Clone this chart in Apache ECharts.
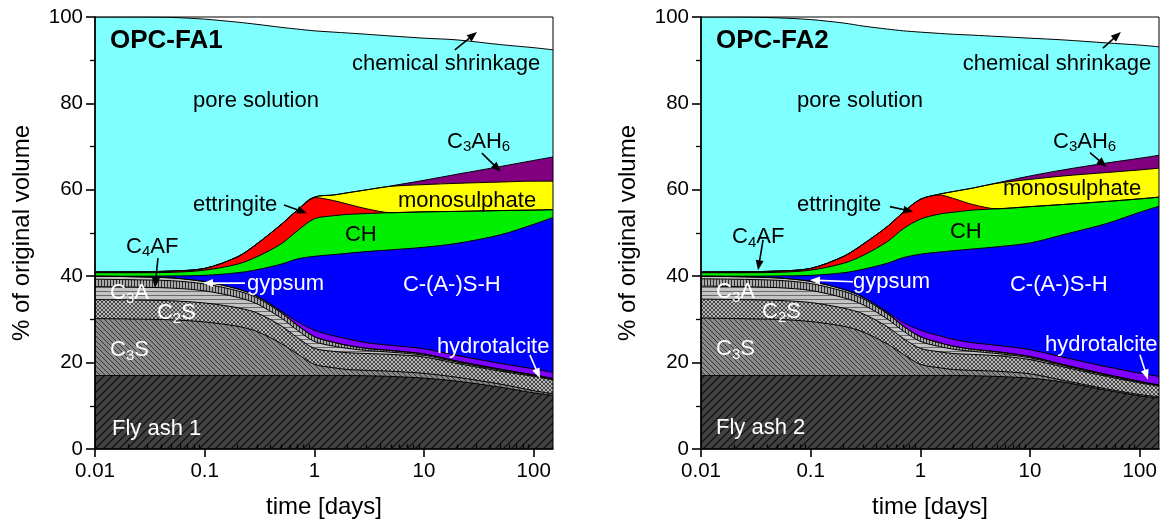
<!DOCTYPE html>
<html>
<head>
<meta charset="utf-8">
<script src="https://cdn.jsdelivr.net/npm/echarts@6/dist/echarts.min.js"></script>
<style>
html,body{margin:0;padding:0;background:#fff}
#chart{width:1165px;height:527px}
</style>
</head>
<body>
<div id="chart"></div>
<script>
// ---------------------------------------------------------------
// Phase assemblage of OPC–fly ash pastes versus hydration time.
// Each array holds the cumulative volume (% of original volume)
// up to and including the named phase, at the times in timeDays.
// ---------------------------------------------------------------
const timeDays = [0.01, 0.02, 0.05, 0.1, 0.2, 0.3, 0.5, 0.7, 1, 1.5, 2, 3, 5, 10, 20, 50, 100, 150];

// OPC-FA1
const fa1FlyAsh      = [17, 17, 17, 17, 17, 17, 17, 17, 17, 17, 17, 16.95, 16.8, 16.4, 15.7, 14.3, 13.0, 12.4];
const fa1C3S         = [30.2, 30.1, 29.9, 29.4, 28.4, 27.2, 24.4, 22.0, 19.6, 18.8, 18.4, 18.2, 18.0, 17.5, 16.6, 15.0, 13.5, 12.8];
const fa1C2S         = [34.6, 34.5, 34.3, 33.8, 32.7, 31.5, 28.5, 25.8, 23.3, 22.6, 22.3, 22.1, 21.9, 21.3, 19.8, 18.0, 16.8, 16.0];
const fa1C3A         = [37.6, 37.5, 37.25, 36.6, 35.1, 33.6, 30.3, 27.5, 24.9, 23.8, 23.3, 22.8, 22.4, 21.7, 20.1, 18.25, 17.0, 16.2];
const fa1C4AF        = [39.3, 39.2, 38.95, 38.2, 36.6, 35.0, 31.5, 28.6, 26.0, 24.7, 24.0, 23.3, 22.8, 22.0, 20.35, 18.45, 17.15, 16.3];
const fa1Gypsum      = [40.0, 39.9, 39.6, 38.75, 37.05, 35.35, 31.7, 28.7, 26.0, 24.7, 24.0, 23.3, 22.8, 22.0, 20.35, 18.45, 17.15, 16.3];
const fa1Hydrotalc   = [40.0, 39.9, 39.6, 38.75, 37.05, 35.35, 31.9, 29.5, 27.5, 26.2, 25.5, 24.6, 24.0, 23.2, 21.65, 19.8, 18.55, 17.7];
const fa1CSH         = [40.0, 40.0, 40.05, 40.2, 40.8, 41.5, 42.8, 44.0, 44.6, 45.0, 45.3, 45.7, 46.1, 46.7, 47.6, 49.6, 52.0, 53.6];
const fa1CH          = [40.8, 40.8, 40.9, 41.4, 42.8, 44.5, 47.5, 50.5, 53.3, 54.0, 54.3, 54.5, 54.7, 54.9, 55.0, 55.2, 55.3, 55.4];
const fa1Ettringite  = [41.0, 41.0, 41.2, 41.8, 44.5, 47.5, 52.0, 55.3, 58.2, 57.5, 56.7, 55.6, 54.7, 54.9, 55.0, 55.2, 55.3, 55.4];
const fa1Monosulph   = [41.0, 41.0, 41.2, 41.8, 44.5, 47.5, 52.0, 55.3, 58.3, 58.8, 59.3, 60.0, 60.8, 61.2, 61.5, 61.8, 62.0, 62.0];
const fa1C3AH6       = [41.0, 41.0, 41.2, 41.8, 44.5, 47.5, 52.0, 55.3, 58.3, 58.8, 59.3, 60.0, 60.9, 62.2, 63.6, 65.4, 66.8, 67.6];
const fa1PoreSol     = [100, 100, 99.9, 99.5, 98.8, 98.3, 97.6, 97.2, 96.8, 96.5, 96.3, 96.0, 95.6, 95.1, 94.7, 93.6, 92.9, 92.4];

// OPC-FA2
const fa2FlyAsh      = [17, 17, 17, 17, 17, 17, 17, 17, 17, 17, 17, 16.95, 16.8, 16.4, 15.5, 13.6, 12.3, 11.8];
const fa2C3S         = [30.3, 30.2, 30.0, 29.5, 28.4, 27.1, 24.3, 21.9, 19.6, 18.8, 18.4, 18.2, 18.0, 17.4, 15.9, 13.9, 12.6, 12.1];
const fa2C2S         = [34.7, 34.6, 34.4, 33.9, 32.6, 31.3, 28.3, 25.6, 23.3, 22.5, 22.1, 21.9, 21.6, 20.7, 19.0, 16.8, 15.3, 14.5];
const fa2C3A         = [37.7, 37.6, 37.35, 36.7, 35.0, 33.4, 30.1, 27.3, 24.9, 23.7, 23.1, 22.6, 22.1, 21.1, 19.3, 17.05, 15.5, 14.7];
const fa2C4AF        = [39.4, 39.3, 39.05, 38.3, 36.5, 34.8, 31.3, 28.4, 26.0, 24.6, 23.8, 23.1, 22.5, 21.4, 19.55, 17.25, 15.65, 14.8];
const fa2Gypsum      = [40.0, 39.9, 39.6, 38.8, 36.95, 35.15, 31.5, 28.5, 26.0, 24.6, 23.8, 23.1, 22.5, 21.4, 19.55, 17.25, 15.65, 14.8];
const fa2Hydrotalc   = [40.0, 39.9, 39.6, 38.8, 36.95, 35.15, 31.7, 29.3, 27.5, 26.2, 25.4, 24.6, 24.0, 23.0, 21.25, 19.05, 17.55, 16.8];
const fa2CSH         = [40.0, 40.0, 40.05, 40.2, 40.8, 41.6, 43.0, 44.3, 45.1, 45.6, 45.9, 46.3, 46.8, 47.7, 49.6, 52.2, 54.8, 56.2];
const fa2CH          = [40.8, 40.8, 40.9, 41.4, 43.0, 44.8, 48.0, 51.0, 53.2, 54.4, 54.8, 55.3, 55.6, 56.1, 56.6, 57.3, 57.9, 58.3];
const fa2Ettringite  = [41.0, 41.0, 41.2, 41.8, 44.6, 47.4, 51.5, 54.8, 57.8, 58.8, 58.0, 56.6, 55.6, 56.1, 56.6, 57.3, 57.9, 58.3];
const fa2Monosulph   = [41.0, 41.0, 41.2, 41.8, 44.6, 47.4, 51.5, 54.8, 57.8, 59.0, 59.6, 60.4, 61.5, 62.4, 63.2, 64.0, 64.6, 65.0];
const fa2C3AH6       = [41.0, 41.0, 41.2, 41.8, 44.6, 47.4, 51.5, 54.8, 57.8, 59.0, 59.6, 60.4, 61.6, 63.2, 64.6, 66.2, 67.3, 68.0];
const fa2PoreSol     = [100, 100, 99.8, 99.4, 98.6, 97.9, 97.2, 96.8, 96.5, 96.2, 96.0, 95.8, 95.5, 95.1, 94.7, 94.0, 93.5, 93.1];

// Axis ticks and titles
const xMajorTicks = [0.01, 0.1, 1, 10, 100];
const xMinorTicks = [0.02, 0.03, 0.04, 0.05, 0.06, 0.07, 0.08, 0.09,
                     0.2, 0.3, 0.4, 0.5, 0.6, 0.7, 0.8, 0.9,
                     2, 3, 4, 5, 6, 7, 8, 9,
                     20, 30, 40, 50, 60, 70, 80, 90];
const yMajorTicks = [0, 20, 40, 60, 80, 100];
const xTitle = 'time [days]';
const yTitle = '% of original volume';

const FONT = '"Liberation Sans", Arial, Helvetica, sans-serif';

// ---------- fill patterns ----------
function tile(w, h, draw) {
  const c = document.createElement('canvas');
  c.width = w; c.height = h;
  const g = c.getContext('2d');
  draw(g, w, h);
  return c;
}
function diagonal(g, w, h, dir) {
  g.beginPath();
  if (dir === '/') {
    g.moveTo(-1, h + 1); g.lineTo(w + 1, -1);
    g.moveTo(-1, 1); g.lineTo(1, -1);
    g.moveTo(w - 1, h + 1); g.lineTo(w + 1, h - 1);
  } else {
    g.moveTo(-1, -1); g.lineTo(w + 1, h + 1);
    g.moveTo(w - 1, -1); g.lineTo(w + 1, 1);
    g.moveTo(-1, h - 1); g.lineTo(1, h + 1);
  }
  g.stroke();
}
function pattern(canvas) { return { image: canvas, repeat: 'repeat' }; }

const fillFlyAsh = pattern(tile(8, 8, (g, w, h) => {
  g.fillStyle = '#424242'; g.fillRect(0, 0, w, h);
  g.strokeStyle = '#111'; g.lineWidth = 1.3; diagonal(g, w, h, '/');
}));
const fillC3S = pattern(tile(5, 5, (g, w, h) => {
  g.fillStyle = '#8a8a8a'; g.fillRect(0, 0, w, h);
  g.strokeStyle = '#333'; g.lineWidth = 1; diagonal(g, w, h, '\\');
}));
const fillC2S = pattern(tile(4, 4, (g, w, h) => {
  g.fillStyle = '#b8b8b8'; g.fillRect(0, 0, w, h);
  g.strokeStyle = '#3a3a3a'; g.lineWidth = 0.9;
  diagonal(g, w, h, '/'); diagonal(g, w, h, '\\');
}));
const fillC3A = pattern(tile(4, 4, (g, w, h) => {
  g.fillStyle = '#c4c4c4'; g.fillRect(0, 0, w, h);
  g.fillStyle = '#6a6a6a'; g.fillRect(0, 3, w, 1);
}));
const fillC4AF = pattern(tile(3, 3, (g, w, h) => {
  g.fillStyle = '#a8a8a8'; g.fillRect(0, 0, w, h);
  g.fillStyle = '#2e2e2e'; g.fillRect(2, 0, 1, h);
}));

// ---------- series ----------
function band(name, values, fill, gi) {
  return {
    type: 'line', name: name,
    xAxisIndex: gi, yAxisIndex: gi,
    data: timeDays.map((t, i) => [t, values[i]]),
    symbol: 'none', showSymbol: false,
    smooth: 0.3,
    lineStyle: { color: '#000', width: 1 },
    areaStyle: { color: fill, opacity: 1 },
    silent: true, z: 2
  };
}
function panelSeries(gi, d) {
  // drawn from the top layer down; each later layer covers the one above it below its own boundary
  return [
    band('pore solution', d.pore, '#80ffff', gi),
    band('C3AH6', d.c3ah6, '#800080', gi),
    band('monosulphate', d.mono, '#ffff00', gi),
    band('ettringite', d.ett, '#ff0000', gi),
    band('CH', d.ch, '#00ee00', gi),
    band('C-(A-)S-H', d.csh, '#0000ff', gi),
    band('hydrotalcite', d.ht, '#7f00ff', gi),
    band('gypsum', d.gyp, '#c4c4c4', gi),
    band('C4AF', d.c4af, fillC4AF, gi),
    band('C3A', d.c3a, fillC3A, gi),
    band('C2S', d.c2s, fillC2S, gi),
    band('C3S', d.c3s, fillC3S, gi),
    band('fly ash', d.fa, fillFlyAsh, gi)
  ];
}

// ---------- axes ----------
function mainX(gi) {
  return {
    type: 'log', logBase: 10, gridIndex: gi, min: 0.01, max: 150, z: 10,
    axisLine: { show: true, onZero: false, lineStyle: { color: '#000', width: 1.6 } },
    axisTick: { show: true, inside: false, length: 8, customValues: xMajorTicks,
                lineStyle: { color: '#000', width: 1.6 } },
    minorTick: { show: false },
    axisLabel: { show: true, customValues: xMajorTicks, margin: 12,
                 formatter: v => String(+Number(v).toPrecision(6)),
                 fontSize: 20.5, fontFamily: FONT, color: '#000' },
    splitLine: { show: false },
    name: xTitle, nameLocation: 'middle', nameGap: 46,
    nameTextStyle: { fontSize: 24, fontFamily: FONT, color: '#000' }
  };
}
function minorX(gi) {
  return {
    type: 'log', logBase: 10, gridIndex: gi, min: 0.01, max: 150, z: 10,
    axisLine: { show: false },
    axisTick: { show: true, inside: false, length: 4.5, customValues: xMinorTicks,
                lineStyle: { color: '#000', width: 1.3 } },
    axisLabel: { show: false },
    splitLine: { show: false }
  };
}
function mainY(gi) {
  return {
    type: 'value', gridIndex: gi, min: 0, max: 100, interval: 20, z: 10,
    axisLine: { show: true, onZero: false, lineStyle: { color: '#000', width: 1.6 } },
    axisTick: { show: true, inside: false, length: 9, lineStyle: { color: '#000', width: 1.6 } },
    minorTick: { show: true, splitNumber: 2, length: 5, lineStyle: { color: '#000', width: 1.3 } },
    axisLabel: { customValues: yMajorTicks, margin: 12, fontSize: 20.5, fontFamily: FONT, color: '#000' },
    splitLine: { show: false },
    name: yTitle, nameLocation: 'middle', nameGap: 61, nameRotate: 90,
    nameTextStyle: { fontSize: 24, fontFamily: FONT, color: '#000' }
  };
}

const plotBoxes = [
  { left: 95, top: 17, width: 458, height: 432 },
  { left: 701, top: 17, width: 458, height: 432 }
];

const chart = echarts.init(document.getElementById('chart'), null, { renderer: 'canvas' });

chart.setOption({
  animation: false,
  backgroundColor: '#fff',
  grid: plotBoxes.map(b => Object.assign({
    show: true, borderColor: '#000', borderWidth: 1,
    backgroundColor: 'transparent', z: 8, outerBoundsMode: 'none', containLabel: false
  }, b)),
  xAxis: [mainX(0), mainX(1), minorX(0), minorX(1)],
  yAxis: [mainY(0), mainY(1)],
  series: [].concat(
    panelSeries(0, { pore: fa1PoreSol, c3ah6: fa1C3AH6, mono: fa1Monosulph, ett: fa1Ettringite, ch: fa1CH,
                     csh: fa1CSH, ht: fa1Hydrotalc, gyp: fa1Gypsum, c4af: fa1C4AF, c3a: fa1C3A,
                     c2s: fa1C2S, c3s: fa1C3S, fa: fa1FlyAsh }),
    panelSeries(1, { pore: fa2PoreSol, c3ah6: fa2C3AH6, mono: fa2Monosulph, ett: fa2Ettringite, ch: fa2CH,
                     csh: fa2CSH, ht: fa2Hydrotalc, gyp: fa2Gypsum, c4af: fa2C4AF, c3a: fa2C3A,
                     c2s: fa2C2S, c3s: fa2C3S, fa: fa2FlyAsh })
  )
});

// ---------- labels and arrows, placed in data coordinates ----------
// text uses {n|..} for normal runs and {s|..} for subscripts
const fa1Labels = [
  { text: 'OPC-FA1', t: 0.0137, v: 94.4, color: '#000', bold: true },
  { text: 'pore solution', t: 0.0782, v: 80.6, color: '#000' },
  { text: 'chemical shrinkage', t: 2.20, v: 89.2, color: '#000' },
  { text: '{n|C}{s|3}{n|AH}{s|6}', t: 16.2, v: 71.1, color: '#000' },
  { text: 'monosulphate', t: 5.78, v: 57.4, color: '#000' },
  { text: 'ettringite', t: 0.0782, v: 56.5, color: '#000' },
  { text: 'CH', t: 1.90, v: 49.5, color: '#000' },
  { text: 'C-(A-)S-H', t: 6.42, v: 38.0, color: '#fff' },
  { text: '{n|C}{s|4}{n|AF}', t: 0.0192, v: 46.8, color: '#000' },
  { text: 'gypsum', t: 0.243, v: 38.2, color: '#fff' },
  { text: '{n|C}{s|3}{n|A}', t: 0.0137, v: 36.1, color: '#fff' },
  { text: '{n|C}{s|2}{n|S}', t: 0.0367, v: 31.5, color: '#fff' },
  { text: '{n|C}{s|3}{n|S}', t: 0.0137, v: 22.9, color: '#fff' },
  { text: 'Fly ash 1', t: 0.0143, v: 4.6, color: '#fff' },
  { text: 'hydrotalcite', t: 13.1, v: 23.6, color: '#fff' }
];
const fa1Arrows = [
  { from: [19.1, 92.4], to: [30.4, 96.5], color: '#000' },
  { from: [33.7, 68.5], to: [50.2, 64.2], color: '#000' },
  { from: [0.528, 56.5], to: [0.857, 54.6], color: '#000' },
  { from: [0.0375, 44.2], to: [0.0352, 37.3], color: '#000' },
  { from: [0.233, 38.4], to: [0.0965, 38.4], color: '#fff' },
  { from: [92.3, 21.8], to: [114, 16.4], color: '#fff' }
];
const fa2Labels = [
  { text: 'OPC-FA2', t: 0.0137, v: 94.4, color: '#000', bold: true },
  { text: 'pore solution', t: 0.075, v: 80.6, color: '#000' },
  { text: 'chemical shrinkage', t: 2.44, v: 89.2, color: '#000' },
  { text: '{n|C}{s|3}{n|AH}{s|6}', t: 16.2, v: 71.1, color: '#000' },
  { text: 'monosulphate', t: 5.66, v: 60.2, color: '#000' },
  { text: 'ettringite', t: 0.075, v: 56.5, color: '#000' },
  { text: 'CH', t: 1.86, v: 50.2, color: '#000' },
  { text: 'C-(A-)S-H', t: 6.56, v: 38.0, color: '#fff' },
  { text: '{n|C}{s|4}{n|AF}', t: 0.0192, v: 49.1, color: '#000' },
  { text: 'gypsum', t: 0.243, v: 38.7, color: '#fff' },
  { text: '{n|C}{s|3}{n|A}', t: 0.0137, v: 36.3, color: '#fff' },
  { text: '{n|C}{s|2}{n|S}', t: 0.036, v: 31.7, color: '#fff' },
  { text: '{n|C}{s|3}{n|S}', t: 0.0137, v: 23.1, color: '#fff' },
  { text: 'Fly ash 2', t: 0.0137, v: 4.9, color: '#fff' },
  { text: 'hydrotalcite', t: 13.7, v: 24.1, color: '#fff' }
];
const fa2Arrows = [
  { from: [46.2, 92.8], to: [67.4, 96.5], color: '#000' },
  { from: [35.2, 68.6], to: [49.9, 65.3], color: '#000' },
  { from: [0.528, 56.1], to: [0.861, 54.9], color: '#000' },
  { from: [0.0368, 48.4], to: [0.0331, 41.4], color: '#000' },
  { from: [0.243, 38.7], to: [0.0985, 39.1], color: '#fff' },
  { from: [100.4, 21.8], to: [118.8, 16.1], color: '#fff' }
];

function toPx(gi, t, v) { return chart.convertToPixel({ gridIndex: gi }, [t, v]); }

function labelEl(gi, L) {
  const p = toPx(gi, L.t, L.v);
  const size = L.bold ? 26 : 22;
  const weight = L.bold ? 'bold' : 'normal';
  return {
    type: 'text', x: p[0], y: p[1], z: 100, silent: true,
    style: {
      text: L.text, fill: L.color, align: 'left', verticalAlign: 'middle',
      fontSize: size, fontFamily: FONT, fontWeight: weight,
      rich: {
        n: { fontSize: size, fontFamily: FONT, fontWeight: weight, fill: L.color, lineHeight: 26 },
        s: { fontSize: 15, fontFamily: FONT, fill: L.color, lineHeight: 6, verticalAlign: 'bottom' }
      }
    }
  };
}
function arrowEls(gi, A) {
  const a = toPx(gi, A.from[0], A.from[1]);
  const b = toPx(gi, A.to[0], A.to[1]);
  const dx = b[0] - a[0], dy = b[1] - a[1];
  const len = Math.hypot(dx, dy), ux = dx / len, uy = dy / len;
  const headL = 10, headW = 4;
  const bx = b[0] - ux * headL, by = b[1] - uy * headL;
  return [
    { type: 'line', z: 100, silent: true,
      shape: { x1: a[0], y1: a[1], x2: bx + ux * 2, y2: by + uy * 2 },
      style: { stroke: A.color, lineWidth: 1.6 } },
    { type: 'polygon', z: 100, silent: true,
      shape: { points: [[b[0], b[1]], [bx - uy * headW, by + ux * headW], [bx + uy * headW, by - ux * headW]] },
      style: { fill: A.color } }
  ];
}

const graphics = [];
fa1Labels.forEach(L => graphics.push(labelEl(0, L)));
fa2Labels.forEach(L => graphics.push(labelEl(1, L)));
fa1Arrows.forEach(A => graphics.push(...arrowEls(0, A)));
fa2Arrows.forEach(A => graphics.push(...arrowEls(1, A)));
chart.setOption({ graphic: graphics });
</script>
</body>
</html>
